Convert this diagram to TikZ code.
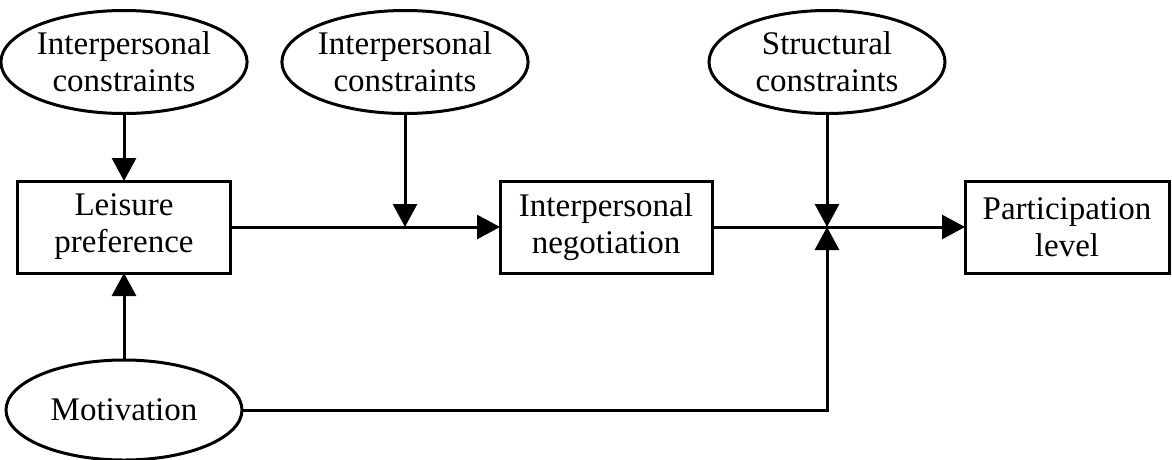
\documentclass[tikz,border=0pt]{standalone}
\usepackage{fontspec}
\setmainfont{Liberation Serif}
\usetikzlibrary{shapes.geometric,arrows.meta,calc}

\begin{document}
\begin{tikzpicture}[x=1pt,y=-1pt,line width=3pt,
  every node/.style={font=\fontsize{33}{37}\selectfont,align=center,inner sep=0pt,outer sep=0pt},
  oval/.style={draw,ellipse,minimum width=236pt,minimum height=103pt},
  block/.style={draw,rectangle,minimum height=92pt},
  arr/.style={-{Triangle[length=23pt,width=24pt]}}]

% Fix the page size
\useasboundingbox (0,0) rectangle (1172,459);

% Draw the constraint ovals
\node[oval] (ipc1) at (124,62) {Interpersonal\\constraints};
\node[oval] (ipc2) at (405,62) {Interpersonal\\constraints};
\node[oval] (stc) at (827,62) {Structural\\constraints};
\node[oval,minimum height=100pt] (motiv) at (124,410) {Motivation};

% Draw the boxes
\node[block,minimum width=213pt] (pref) at (124,227) {Leisure\\preference};
\node[block,minimum width=212pt] (negot) at (606,227) {Interpersonal\\negotiation};
\node[block,minimum width=204pt] (partic) at (1067,227) {Participation\\level};

% Points where arrows meet the lines
\coordinate (j1) at (ipc2.south |- pref.east);
\coordinate (j2) at (stc.south |- negot.east);

% Draw the arrows
\draw[arr] (ipc1.south) -- (pref.north);
\draw[arr] (motiv.north) -- (pref.south);
\draw[arr] (pref.east) -- (negot.west);
\draw[arr] (ipc2.south) -- (j1);
\draw[arr] (negot.east) -- (partic.west);
\draw[arr] (stc.south) -- (j2);
\draw[arr] (motiv.east) -| (j2);

\end{tikzpicture}
\end{document}
